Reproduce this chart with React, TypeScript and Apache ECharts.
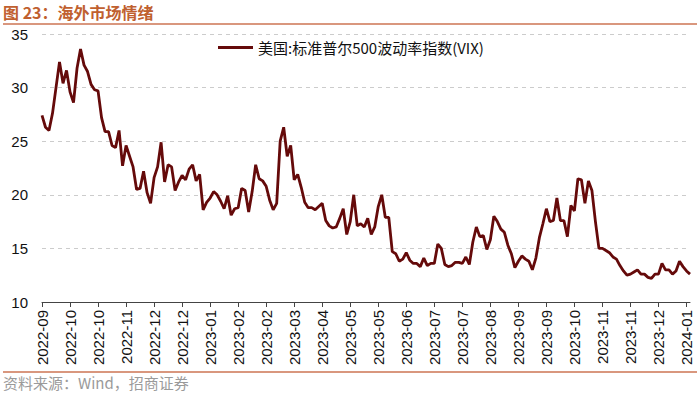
import React, { useEffect, useRef } from "react";
import * as echarts from "echarts";

const titleText = "图 23：海外市场情绪";
const sourceText = "资料来源：Wind，招商证券";
const seriesName = "美国:标准普尔500波动率指数(VIX)";

const tickLabels = [
  "2022-09", "2022-10", "2022-10", "2022-11", "2022-12", "2022-12",
  "2023-01", "2023-02", "2023-02", "2023-03", "2023-04", "2023-05",
  "2023-05", "2023-06", "2023-07", "2023-07", "2023-08", "2023-09",
  "2023-09", "2023-10", "2023-11", "2023-11", "2023-12", "2024-01",
];
const pointsPerTick = 8;

const vix = [
  27.4, 26.3, 26.0, 27.6, 30.0, 32.4, 30.4, 31.6, 29.6, 28.6,
  31.8, 33.6, 32.1, 31.5, 30.3, 29.8, 29.7, 27.2, 25.9, 25.9,
  24.6, 24.4, 26.0, 22.7, 24.6, 23.6, 22.6, 20.5, 20.6, 22.2,
  20.2, 19.2, 21.6, 22.6, 24.9, 21.2, 22.8, 22.6, 20.4, 21.2,
  21.8, 21.4, 22.4, 22.8, 21.3, 21.9, 18.6, 19.3, 19.7, 20.3,
  20.0, 19.4, 18.7, 19.9, 18.1, 18.7, 18.8, 20.6, 20.4, 18.4,
  20.3, 22.8, 21.5, 21.3, 20.8, 19.5, 18.6, 19.2, 25.0, 26.3,
  23.6, 24.6, 21.4, 21.9, 20.7, 19.3, 18.8, 18.8, 18.6, 18.9,
  19.2, 17.6, 17.1, 16.9, 17.0, 17.8, 18.7, 16.3, 17.5, 20.0,
  17.1, 17.3, 17.0, 17.8, 16.3, 17.0, 18.9, 20.0, 17.9, 17.9,
  14.7, 14.5, 13.8, 14.0, 14.6, 13.9, 13.6, 13.6, 13.3, 14.1,
  13.4, 13.6, 13.6, 15.4, 15.0, 13.5, 13.3, 13.4, 13.7, 13.7,
  13.6, 14.2, 13.5, 15.6, 17.0, 16.1, 16.2, 14.9, 15.8, 18.0,
  17.5, 16.8, 16.5, 15.3, 14.5, 13.2, 13.8, 14.3, 14.0, 13.8,
  13.0, 14.1, 16.0, 17.3, 18.7, 17.5, 17.6, 19.7, 17.6, 17.6,
  16.1, 19.0, 18.5, 21.5, 21.4, 19.2, 21.3, 20.4, 17.5, 15.0,
  15.0, 14.8, 14.6, 14.2, 14.0, 13.4, 12.9, 12.5, 12.6, 12.8,
  13.0, 12.6, 12.6, 12.3, 12.2, 12.6, 12.6, 13.6, 13.0, 13.0,
  12.6, 12.9, 13.8, 13.3, 12.9, 12.6,
];

const yMin = 10;
const yMax = 35;
const yStep = 5;

const FONT = "'Liberation Sans', Arial, 'Noto Sans CJK SC', sans-serif";
const CJK = "'Noto Sans CJK SC', 'Liberation Sans', sans-serif";

export default function App() {
  const ref = useRef<HTMLDivElement>(null);

  useEffect(() => {
    if (!ref.current) return;
    const chart = echarts.init(ref.current, undefined, { renderer: "svg" });
    const cats = vix.map((_, i) => String(i));
    chart.setOption({
      animation: false,
      backgroundColor: "#ffffff",
      grid: { left: 42, right: 10, top: 34, bottom: 93, containLabel: false },
      legend: {
        show: true,
        left: 213,
        top: 35,
        icon: "rect",
        itemWidth: 35,
        itemHeight: 3,
        itemGap: 6,
        textStyle: { fontSize: 15, color: "#111", fontFamily: CJK },
        data: [seriesName],
      },
      xAxis: {
        type: "category",
        data: cats,
        boundaryGap: false,
        axisLine: { show: true, lineStyle: { color: "#444", width: 1 } },
        axisTick: {
          show: true,
          interval: pointsPerTick - 1,
          length: 5,
          lineStyle: { color: "#444" },
        },
        axisLabel: {
          interval: pointsPerTick - 1,
          rotate: 90,
          margin: 8,
          fontSize: 15,
          color: "#111",
          fontFamily: FONT,
          formatter: (_v: string, idx: number) =>
            idx % pointsPerTick === 0 ? tickLabels[idx / pointsPerTick] ?? "" : "",
        },
        splitLine: { show: false },
      },
      yAxis: {
        type: "value",
        min: yMin,
        max: yMax,
        interval: yStep,
        axisLine: { show: false },
        axisTick: { show: false },
        axisLabel: { fontSize: 15, color: "#111", fontFamily: FONT, margin: 14 },
        splitLine: {
          show: true,
          lineStyle: { color: "#cccccc", type: [4, 4], width: 1 },
        },
      },
      series: [
        {
          name: seriesName,
          type: "line",
          data: vix,
          symbol: "none",
          lineStyle: { color: "#650A0A", width: 2.8 },
          itemStyle: { color: "#650A0A" },
        },
      ],
      graphic: [
        {
          type: "text",
          left: 3,
          top: 4,
          style: {
            text: titleText,
            fontSize: 16,
            fontWeight: "bold",
            fill: "#C0602F",
            fontFamily: CJK,
          },
        },
        {
          type: "line",
          shape: { x1: 3, y1: 24, x2: 697, y2: 24 },
          style: { stroke: "#CD7553", lineWidth: 1.5 },
        },
        {
          type: "line",
          shape: { x1: 3, y1: 372, x2: 697, y2: 372 },
          style: { stroke: "#CD7553", lineWidth: 1.5 },
        },
        {
          type: "text",
          left: 3,
          top: 375,
          style: {
            text: sourceText,
            fontSize: 15,
            fill: "#9a9a9a",
            fontFamily: CJK,
          },
        },
      ],
    });
    return () => chart.dispose();
  }, []);

  return (
    <div
      ref={ref}
      style={{ position: "fixed", left: 0, top: 0, width: 700, height: 395 }}
    />
  );
}
